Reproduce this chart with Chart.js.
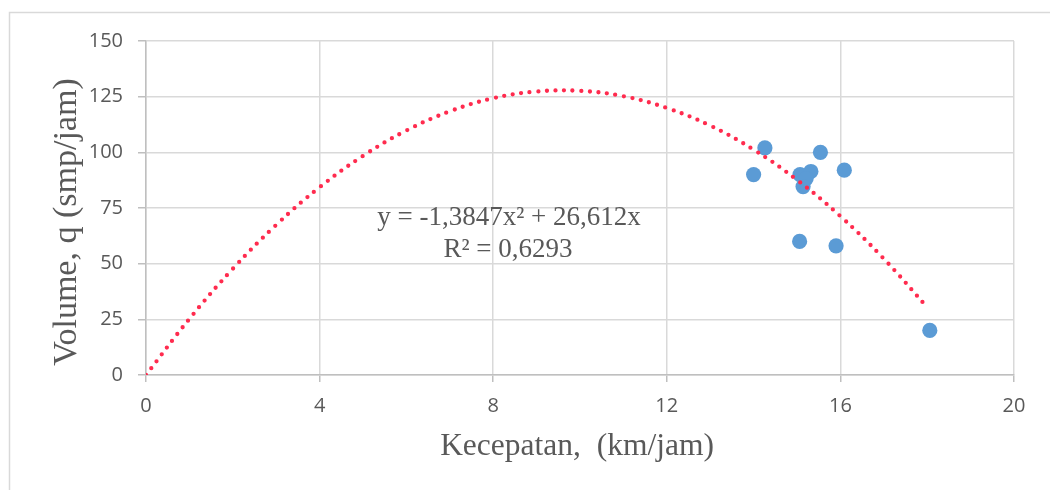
<!DOCTYPE html>
<html>
<head>
<meta charset="utf-8">
<script src="https://cdn.jsdelivr.net/npm/chart.js@4.4.1/dist/chart.umd.min.js"></script>
<style>
  html, body { margin: 0; padding: 0; background: #ffffff; }
  canvas { display: block; }
</style>
</head>
<body>
<canvas id="c" width="1050" height="490"></canvas>
<script>
// Observed data: speed (km/jam) vs volume (smp/jam)
const speed  = [14.0, 14.26, 15.54, 16.09, 15.07, 15.32, 15.21, 15.14, 15.06, 15.9, 18.06];
const volume = [90, 102, 100, 92, 90, 91.4, 88.2, 84.6, 60, 58, 20];

// Trendline points
const trendX = [0, 1, 2, 3, 4, 5, 6, 7, 8, 9, 10, 11, 12, 13, 14, 15, 16, 17, 18];
const trendY = [0, 25.2, 47.7, 67.4, 84.3, 98.4, 109.8, 118.4, 124.3, 127.3, 127.6, 125.2, 119.9, 112.0, 101.2, 87.6, 71.3, 52.2, 30.4];

// Tick labels
const xTicks = [0, 4, 8, 12, 16, 20];
const yTicks = [0, 25, 50, 75, 100, 125, 150];

// Texts
const xTitle = 'Kecepatan,  (km/jam)';
const yTitle = 'Volume, q (smp/jam)';
const eqLines = ['y = -1,3847x\u00B2 + 26,612x', 'R\u00B2 = 0,6293'];

const scatterPts = speed.map((s, i) => ({ x: s, y: volume[i] }));
const trendPts = trendX.map((t, i) => ({ x: t, y: trendY[i] }));

const decor = {
  id: 'decor',
  beforeDraw(chart) {
    const ctx = chart.ctx;
    ctx.save();
    ctx.fillStyle = '#ffffff';
    ctx.fillRect(0, 0, chart.width, chart.height);
    ctx.strokeStyle = '#d9d9d9';
    ctx.lineWidth = 1.5;
    ctx.strokeRect(9.5, 12.5, 1200, 700);
    ctx.restore();
  },
  afterDraw(chart) {
    const ctx = chart.ctx;
    const xs = chart.scales.x, ys = chart.scales.y;
    ctx.save();
    ctx.fillStyle = '#595959';
    // x title
    ctx.font = '31.5px "Liberation Serif", "Times New Roman", serif';
    ctx.textAlign = 'center';
    ctx.textBaseline = 'alphabetic';
    ctx.fillText(xTitle, (xs.left + xs.right) / 2 - 3, 455);
    // y title
    ctx.save();
    ctx.font = '34px "Liberation Serif", "Times New Roman", serif';
    ctx.translate(76, (ys.top + ys.bottom) / 2 + 14);
    ctx.rotate(-Math.PI / 2);
    ctx.fillText(yTitle, 0, 0);
    ctx.restore();
    // equation label
    ctx.font = '27px "Liberation Serif", "Times New Roman", serif';
    ctx.fillText(eqLines[0], 509, 225);
    ctx.fillText(eqLines[1], 508, 257);
    ctx.restore();
  }
};

new Chart(document.getElementById('c'), {
  type: 'scatter',
  data: {
    datasets: [
      {
        type: 'line',
        label: 'Trend',
        data: trendPts,
        order: 0,
        borderColor: '#FF2B4E',
        borderWidth: 4.3,
        borderDash: [0, 8.6],
        borderCapStyle: 'round',
        pointRadius: 0,
        pointHoverRadius: 0,
        fill: false,
        tension: 0.4
      },
      {
        label: 'Volume',
        data: scatterPts,
        order: 1,
        backgroundColor: '#5B9BD5',
        borderColor: '#5B9BD5',
        borderWidth: 0,
        pointRadius: 7.6,
        pointHoverRadius: 7.6
      }
    ]
  },
  options: {
    responsive: false,
    animation: false,
    events: [],
    layout: { padding: { top: 41, right: 36, left: 0, bottom: 0 } },
    plugins: {
      legend: { display: false },
      tooltip: { enabled: false }
    },
    scales: {
      x: {
        type: 'linear',
        min: 0, max: 20,
        afterFit(s) { s.height = 115; },
        afterBuildTicks(s) { s.ticks = xTicks.map(v => ({ value: v })); },
        grid: { color: '#d9d9d9', lineWidth: 1.5, tickLength: 7, tickColor: '#bfbfbf' },
        border: { color: '#bfbfbf', width: 1.5 },
        ticks: {
          padding: 12,
          color: '#595959',
          font: { family: '"Open Sans", "Liberation Sans", sans-serif', size: 20 },
          maxRotation: 0
        }
      },
      y: {
        type: 'linear',
        min: 0, max: 150,
        afterFit(s) { s.width = 146; },
        afterBuildTicks(s) { s.ticks = yTicks.map(v => ({ value: v })); },
        grid: { color: '#d9d9d9', lineWidth: 1.5, tickLength: 8, tickColor: '#bfbfbf' },
        border: { color: '#bfbfbf', width: 1.5 },
        ticks: {
          padding: 15,
          color: '#595959',
          font: { family: '"Open Sans", "Liberation Sans", sans-serif', size: 20 }
        }
      }
    }
  },
  plugins: [decor]
});
</script>
</body>
</html>
